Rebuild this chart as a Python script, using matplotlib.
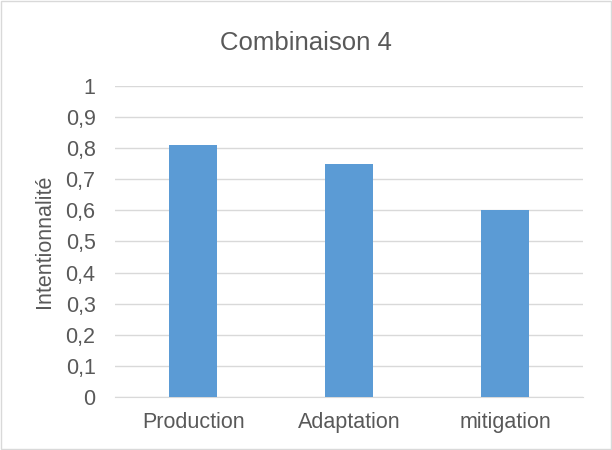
import matplotlib
matplotlib.use('Agg')
import matplotlib.pyplot as plt
import numpy as np

# Chart data
categories = ['Production', 'Adaptation', 'mitigation']
values = [0.81, 0.75, 0.60]
yticks = [0, 0.1, 0.2, 0.3, 0.4, 0.5, 0.6, 0.7, 0.8, 0.9, 1]
ytick_labels = ['0', '0,1', '0,2', '0,3', '0,4', '0,5', '0,6', '0,7', '0,8', '0,9', '1']

plt.rcParams['font.family'] = ['Liberation Sans', 'DejaVu Sans']
text_color = '#595959'

fig = plt.figure(figsize=(6.12, 4.5), dpi=100)
ax = fig.add_axes([0.188, 0.118, 0.765, 0.691])

x = np.arange(len(categories))
ax.bar(x, values, width=0.31, color='#5B9BD5', zorder=3)

ax.set_xlim(-0.5, len(categories) - 0.5)
ax.set_ylim(0, 1)
ax.set_yticks(yticks)
ax.set_yticklabels(ytick_labels)
ax.set_xticks(x)
ax.set_xticklabels(categories)

ax.grid(axis='y', color='#D9D9D9', linewidth=1, zorder=0)
for side in ['top', 'right', 'left']:
    ax.spines[side].set_visible(False)
ax.spines['bottom'].set_color('#D9D9D9')
ax.tick_params(axis='both', length=0, labelsize=15.5, colors=text_color)
ax.tick_params(axis='y', pad=14)
ax.tick_params(axis='x', pad=11)

ax.set_ylabel('Intentionnalité', fontsize=15.5, color=text_color, labelpad=8)
fig.text(0.5, 0.905, 'Combinaison 4', ha='center', va='center', fontsize=18.5, color=text_color)

# light frame around the chart
fig.patches.append(plt.Rectangle((0.002, 0.002), 0.996, 0.996, transform=fig.transFigure,
                                 fill=False, edgecolor='#D9D9D9', linewidth=1))

fig.savefig('out.png', dpi=100)
